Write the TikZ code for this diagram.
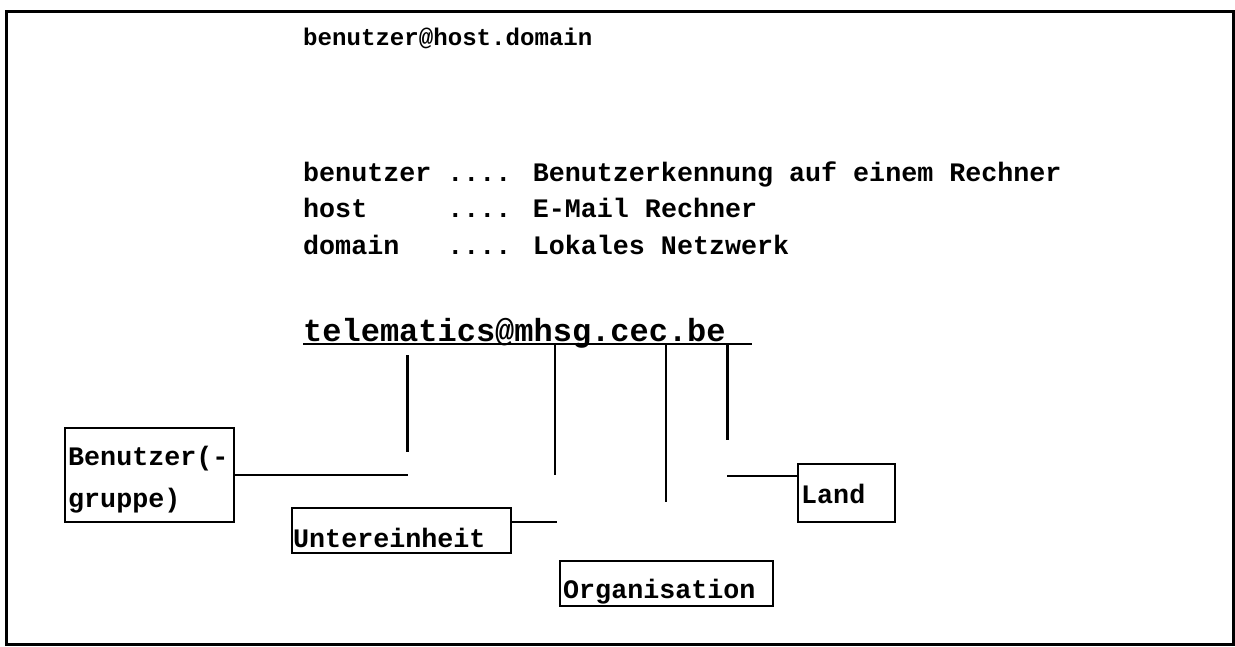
\documentclass[tikz,border=0pt]{standalone}
\usepackage{fontspec}
\setmonofont{Liberation Mono}
\newfontfamily\cour{Liberation Mono}
\begin{document}
\begin{tikzpicture}[x=1pt,y=-1pt,
  frame/.style={line width=3pt},
  conn/.style={line width=2.6pt},
  boxnode/.style={draw,line width=2.4pt,anchor=north west,inner sep=0pt},
  txt/.style={anchor=base west,inner sep=0pt,font=\cour\bfseries\fontsize{26.7}{30}\selectfont},
  ttl/.style={anchor=base west,inner sep=0pt,font=\cour\bfseries\fontsize{24.1}{28}\selectfont},
  big/.style={anchor=base west,inner sep=0pt,font=\cour\bfseries\fontsize{32}{36}\selectfont}]
\useasboundingbox (0,0) rectangle (1235,646);
\draw[frame] (6,11) rectangle (1233,644);
% header texts
\node[ttl] (title) at (303,45) {benutzer@host.domain};
\node[txt] (l1) at (303,181) {benutzer .... Benutzerkennung auf einem Rechner};
\node[txt] (l2) at (303,217) {host~~~~~.... E-Mail Rechner};
\node[txt] (l3) at (303,254) {domain~~~.... Lokales Netzwerk};
\node[big] (addr) at (303,341) {telematics@mhsg.cec.be};
% underline
\coordinate (ulA) at (303,344);
\coordinate (ulB) at (752,344);
\draw[line width=2pt] (ulA) -- (ulB);
% boxes
\node[boxnode,minimum width=169pt,minimum height=94pt] (bgrp) at (64,427) {};
\node[txt] (bgrpA) at (68,465) {Benutzer(-};
\node[txt] (bgrpB) at (68,507) {gruppe)};
\node[boxnode,minimum width=219pt,minimum height=45pt] (unter) at (291,507) {};
\node[txt] (unterT) at (293,547) {Untereinheit};
\node[boxnode,minimum width=213pt,minimum height=45pt] (org) at (559,560) {};
\node[txt] (orgT) at (563,598) {Organisation};
\node[boxnode,minimum width=97pt,minimum height=58pt] (land) at (797,463) {};
\node[txt] (landT) at (801,503) {Land};
% connector coordinates
\coordinate (v1a) at (407.5,355);
\coordinate (v1b) at (407.5,452);
\coordinate (h1) at (408,475);
\coordinate (v2a) at (555,344);
\coordinate (v2b) at (555,475);
\coordinate (h2) at (557,522);
\coordinate (v3a) at (666,344);
\coordinate (v3b) at (666,502);
\coordinate (v4a) at (727.5,344);
\coordinate (v4b) at (727.5,440);
\coordinate (h4) at (727,476);
% connectors
\draw[conn] (v1a) -- (v1b);
\draw[conn] (bgrp.east |- h1) -- (h1);
\draw[conn] (v2a) -- (v2b);
\draw[conn] (unter.east |- h2) -- (h2);
\draw[conn] (v3a) -- (v3b);
\draw[conn] (v4a) -- (v4b);
\draw[conn] (h4) -- (land.west |- h4);
\end{tikzpicture}
\end{document}
